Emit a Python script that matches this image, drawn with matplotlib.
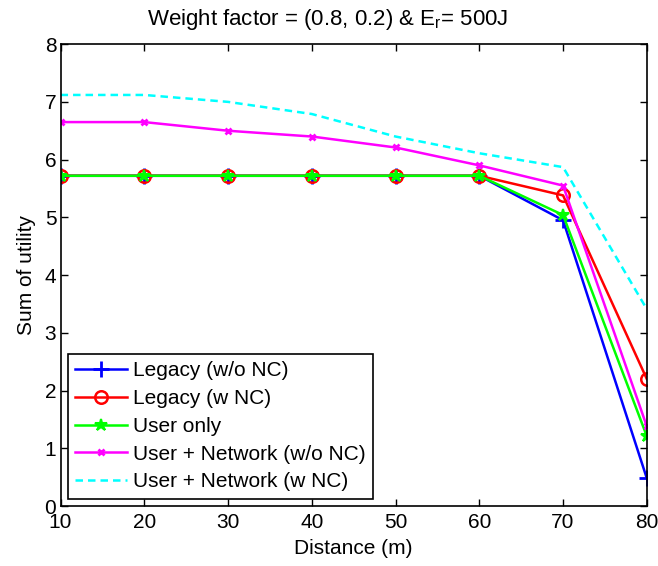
import matplotlib
matplotlib.use("Agg")
import matplotlib.pyplot as plt

distance = [10, 20, 30, 40, 50, 60, 70, 80]
legacy_wo_nc = [5.72, 5.72, 5.72, 5.72, 5.72, 5.72, 4.95, 0.48]
legacy_w_nc = [5.72, 5.72, 5.72, 5.72, 5.72, 5.72, 5.38, 2.20]
user_only = [5.72, 5.72, 5.72, 5.72, 5.72, 5.72, 5.04, 1.21]
user_net_wo_nc = [6.65, 6.65, 6.50, 6.40, 6.21, 5.90, 5.55, 1.38]
user_net_w_nc = [7.12, 7.12, 7.00, 6.79, 6.40, 6.11, 5.87, 3.41]

labels = ["Legacy (w/o NC)", "Legacy (w NC)", "User only",
          "User + Network (w/o NC)", "User + Network (w NC)"]

plt.rcParams['font.family'] = ['Liberation Sans', 'DejaVu Sans']
plt.rcParams['mathtext.fontset'] = 'custom'
plt.rcParams['mathtext.rm'] = 'Liberation Sans'
plt.rcParams['mathtext.it'] = 'Liberation Sans'

fs = 15
fig = plt.figure(figsize=(6.58, 5.66), dpi=100)
ax = fig.add_axes([0.092, 0.106, 0.891, 0.816])

lw = 1.8
ax.plot(distance, legacy_wo_nc, color='#0000ff', lw=lw, marker='+', ms=11, mew=2, label=labels[0])
ax.plot(distance, legacy_w_nc, color='#ff0000', lw=lw, marker='o', ms=9, mew=1.8, mfc='none', label=labels[1])
ax.plot(distance, user_only, color='#00ff00', lw=lw, marker='*', ms=9, mew=1.5, label=labels[2])
ax.plot(distance, user_net_wo_nc, color='#ff00ff', lw=lw, marker='x', ms=5, mew=2, label=labels[3])
ax.plot(distance, user_net_w_nc, color='#00ffff', lw=lw, ls=(0, (3, 2)), label=labels[4])

ax.set_xlim(10, 80)
ax.set_ylim(0, 8)
ax.set_xticks(distance)
ax.set_yticks(range(0, 9))
ax.tick_params(direction='in', top=True, right=True, length=5, width=1, labelsize=fs)
ax.tick_params(axis='x', pad=5)
ax.tick_params(axis='y', pad=3)
for s in ax.spines.values():
    s.set_linewidth(1.2)

ax.set_xlabel("Distance (m)", fontsize=fs, labelpad=5)
ax.set_ylabel("Sum of utility", fontsize=fs, labelpad=6)
ax.set_title("Weight factor = (0.8, 0.2) & E$_\\mathregular{r}$= 500J", fontsize=16, pad=14)
ax.title.set_x(0.456)

leg = ax.legend(loc='lower left', fontsize=fs, fancybox=False, edgecolor='black',
                framealpha=1, handlelength=2.5, borderaxespad=0.35, labelspacing=0.42,
                handletextpad=0.3, borderpad=0.35)
leg.get_frame().set_linewidth(1.2)

fig.savefig("out.png", dpi=100)
